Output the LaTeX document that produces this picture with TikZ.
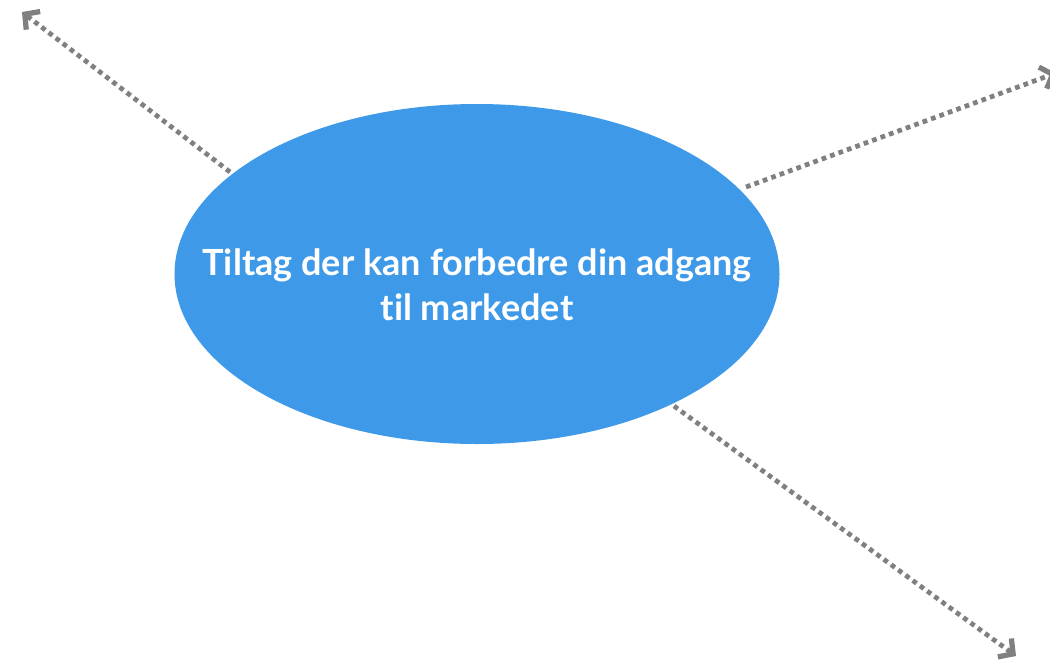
\documentclass[tikz,border=0pt]{standalone}
\usepackage{fontspec}
\setmainfont{Lato}[Ligatures={NoCommon,NoRequired,NoContextual}]
\usetikzlibrary{shapes.geometric,arrows.meta}
\definecolor{bubble}{RGB}{62,154,232}
\definecolor{linkgray}{RGB}{128,128,128}
\begin{document}
\begin{tikzpicture}[x=0.02cm,y=-0.02cm,
  central/.style={ellipse,fill=bubble,draw=none,minimum width=605*0.02cm,minimum height=340*0.02cm,inner sep=0pt},
  centraltext/.style={text=white,font=\fontsize{20.5}{25.5}\selectfont\bfseries,align=center,inner sep=0pt},
  link/.style={draw=linkgray,line width=2.7pt,dash pattern=on 2.7pt off 2.4pt,
    -{Straight Barb[length=6pt,width=13pt,line width=3pt]}}]
\useasboundingbox (0,0) rectangle (1050,659);
\node[central] (e) at (477,274) {};
\node[centraltext] (lbl) at (477,285) {Tiltag der kan forbedre din adgang\\til markedet};
\coordinate (s1) at (230,172);
\coordinate (t1) at (22,12);
\coordinate (s2) at (746,187);
\coordinate (t2) at (1056,73);
\coordinate (s3) at (674,406);
\coordinate (t3) at (1016,656);
\draw[link] (s1) -- (t1);
\draw[link] (s2) -- (t2);
\draw[link] (s3) -- (t3);
\end{tikzpicture}
\end{document}
